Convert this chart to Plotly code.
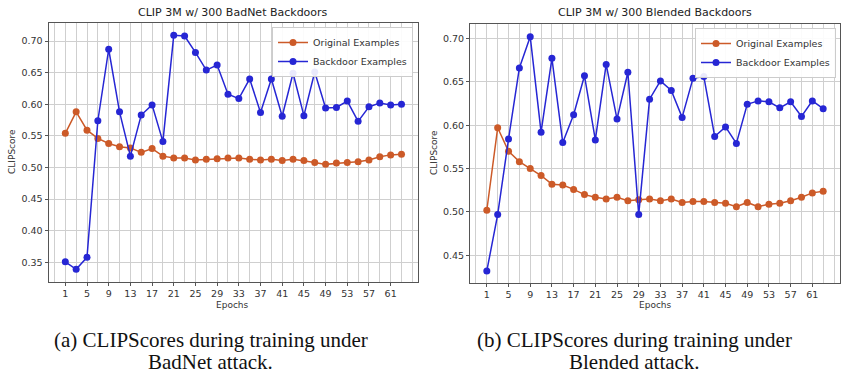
import plotly.graph_objects as go

epochs = list(range(1, 64, 2))
tick_epochs = list(range(1, 62, 4))

badnet_original = [0.554, 0.588, 0.559, 0.546, 0.538, 0.533, 0.531, 0.524, 0.530, 0.518,
                   0.515, 0.515, 0.512, 0.513, 0.514, 0.515, 0.515, 0.513, 0.512, 0.513,
                   0.511, 0.513, 0.511, 0.508, 0.505, 0.507, 0.508, 0.509, 0.512, 0.517,
                   0.520, 0.521]
badnet_backdoor = [0.351, 0.339, 0.358, 0.574, 0.687, 0.588, 0.518, 0.583, 0.599, 0.541,
                   0.709, 0.708, 0.682, 0.654, 0.662, 0.616, 0.609, 0.640, 0.587, 0.640,
                   0.581, 0.649, 0.582, 0.651, 0.594, 0.595, 0.605, 0.573, 0.596, 0.602,
                   0.599, 0.600]
blended_original = [0.502, 0.597, 0.570, 0.558, 0.550, 0.542, 0.532, 0.531, 0.526, 0.520,
                    0.517, 0.515, 0.517, 0.513, 0.514, 0.515, 0.513, 0.515, 0.511, 0.512,
                    0.512, 0.511, 0.510, 0.506, 0.511, 0.506, 0.509, 0.510, 0.513, 0.517,
                    0.522, 0.524]
blended_backdoor = [0.432, 0.497, 0.584, 0.666, 0.702, 0.592, 0.677, 0.580, 0.612, 0.657,
                    0.583, 0.670, 0.607, 0.661, 0.497, 0.630, 0.651, 0.640, 0.609, 0.654,
                    0.656, 0.587, 0.598, 0.579, 0.624, 0.628, 0.627, 0.620, 0.627, 0.610,
                    0.628, 0.619]

titles = ["CLIP 3M w/ 300 BadNet Backdoors", "CLIP 3M w/ 300 Blended Backdoors"]
series_names = ["Original Examples", "Backdoor Examples"]
captions = [["(a) CLIPScores during training under", "BadNet attack."],
            ["(b) CLIPScores during training under", "Blended attack."]]

ORANGE = "#cc5a28"
BLUE = "#2626d4"
W, H = 841, 375

def px_x(v):
    return v / W

def px_y(v):
    return 1 - v / H

fig = go.Figure()

panels = [
    dict(orig=badnet_original, back=badnet_backdoor, xs="x", ys="y", legend="legend"),
    dict(orig=blended_original, back=blended_backdoor, xs="x2", ys="y2", legend="legend2"),
]
for p in panels:
    for name, vals, col in [(series_names[0], p["orig"], ORANGE), (series_names[1], p["back"], BLUE)]:
        fig.add_trace(go.Scatter(
            x=epochs, y=vals, mode="lines+markers", name=name,
            line=dict(color=col, width=1.5),
            marker=dict(color=col, size=7),
            xaxis=p["xs"], yaxis=p["ys"], legend=p["legend"],
        ))

axis_font = dict(family="DejaVu Sans", size=9.5, color="#333333")
common_x = dict(
    range=[-2.1, 66.1], tickmode="array", tickvals=tick_epochs,
    ticktext=[str(t) for t in tick_epochs],
    ticks="outside", ticklen=3, tickcolor="#555555", tickfont=axis_font,
    showgrid=True, gridcolor="#cfcfcf", gridwidth=1,
    minor=dict(tick0=1, dtick=2, showgrid=True, gridcolor="#cfcfcf", gridwidth=1, ticks=""),
    showline=True, linecolor="#555555", linewidth=1, mirror=True, zeroline=False,
)
common_y = dict(
    tickformat=".2f", dtick=0.05, tick0=0.35,
    ticks="outside", ticklen=3, tickcolor="#555555", tickfont=axis_font,
    showgrid=True, gridcolor="#cfcfcf", gridwidth=1,
    showline=True, linecolor="#555555", linewidth=1, mirror=True, zeroline=False,
)

legend_common = dict(
    bgcolor="rgba(255,255,255,0.9)", bordercolor="#cccccc", borderwidth=1,
    font=dict(family="DejaVu Sans", size=9.5, color="#333333"),
    xanchor="right", yanchor="top", itemwidth=30, tracegroupgap=0,
)

fig.update_layout(
    width=W, height=H, margin=dict(l=0, r=0, t=0, b=0),
    paper_bgcolor="white", plot_bgcolor="white", showlegend=True,
    xaxis=dict(domain=[px_x(48.5), px_x(418.3)], anchor="y", **common_x),
    yaxis=dict(domain=[px_y(281.7), px_y(23)], anchor="x", range=[0.3195, 0.7285], **common_y),
    xaxis2=dict(domain=[px_x(470), px_x(840)], anchor="y2", **common_x),
    yaxis2=dict(domain=[px_y(282.7), px_y(24)], anchor="x2", range=[0.4185, 0.7166], **common_y),
    legend=dict(x=px_x(413), y=px_y(27), **legend_common),
    legend2=dict(x=px_x(836), y=px_y(28), **legend_common),
)

ann = []
for i, (cx_title, cx_plot, cx_cap) in enumerate([(233, 233, 211), (655, 655, 634)]):
    ann.append(dict(text=titles[i], x=px_x(cx_title), y=px_y(13), xref="paper", yref="paper",
                    showarrow=False, xanchor="center", yanchor="middle",
                    font=dict(family="DejaVu Sans", size=11, color="#222222")))
    ann.append(dict(text="Epochs", x=px_x(cx_plot), y=px_y(305), xref="paper", yref="paper",
                    showarrow=False, xanchor="center", yanchor="middle",
                    font=dict(family="DejaVu Sans", size=9, color="#333333")))
    ann.append(dict(text=captions[i][0], x=px_x(cx_cap), y=px_y(340), xref="paper", yref="paper",
                    showarrow=False, xanchor="center", yanchor="middle",
                    font=dict(family="Liberation Serif", size=21, color="#111111")))
    ann.append(dict(text=captions[i][1], x=px_x(cx_cap), y=px_y(362), xref="paper", yref="paper",
                    showarrow=False, xanchor="center", yanchor="middle",
                    font=dict(family="Liberation Serif", size=21, color="#111111")))
for cx, cy in [(12, 152), (434, 153)]:
    ann.append(dict(text="CLIPScore", x=px_x(cx), y=px_y(cy), xref="paper", yref="paper",
                    showarrow=False, xanchor="center", yanchor="middle", textangle=-90,
                    font=dict(family="DejaVu Sans", size=9, color="#333333")))
fig.update_layout(annotations=ann)

fig.write_html("out.html")
